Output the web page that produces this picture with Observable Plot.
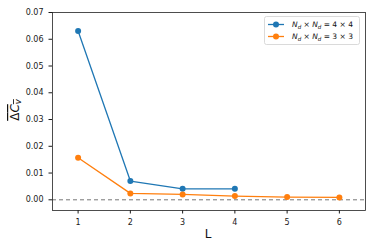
<!DOCTYPE html>
<html><head><meta charset="utf-8">
<script src="https://cdn.jsdelivr.net/npm/d3@7"></script>
<script src="https://cdn.jsdelivr.net/npm/@observablehq/plot@0.6"></script>
<style>body{margin:0;background:#fff}svg{font-family:"DejaVu Sans",sans-serif}</style>
</head><body><div id="c"></div>
<script>
const L4 = [1, 2, 3, 4];
const v4 = [0.0631, 0.0070, 0.0041, 0.0041];
const L3 = [1, 2, 3, 4, 5, 6];
const v3 = [0.0157, 0.0024, 0.0020, 0.0014, 0.0010, 0.0009];
const xTicks = [1, 2, 3, 4, 5, 6];
const yTicks = [0, 0.01, 0.02, 0.03, 0.04, 0.05, 0.06, 0.07];
const blue = "#1f77b4", orange = "#ff7f0e";
const d4 = L4.map((L, i) => ({L, v: v4[i]}));
const d3s = L3.map((L, i) => ({L, v: v3[i]}));

const chart = Plot.plot({
  width: 374, height: 249,
  marginLeft: 52, marginRight: 9, marginTop: 12, marginBottom: 39,
  style: {fontSize: "8px", fontFamily: "DejaVu Sans, sans-serif", color: "#1a1a1a"},
  x: {domain: [0.51, 6.5], ticks: xTicks, tickSize: 3.5, label: null, tickFormat: d => d},
  y: {domain: [-0.004, 0.07], ticks: yTicks, tickSize: 3.5, label: null, tickFormat: d3.format(".2f")},
  marks: [
    Plot.ruleY([0], {stroke: "#777", strokeWidth: 1, strokeDasharray: "4,3"}),
    Plot.line(d4, {x: "L", y: "v", stroke: blue, strokeWidth: 1.3}),
    Plot.dot(d4, {x: "L", y: "v", fill: blue, r: 3}),
    Plot.line(d3s, {x: "L", y: "v", stroke: orange, strokeWidth: 1.3}),
    Plot.dot(d3s, {x: "L", y: "v", fill: orange, r: 3}),
    Plot.frame({stroke: "#222", strokeWidth: 0.8})
  ]
});
document.getElementById("c").appendChild(chart);
const svg = d3.select(chart);
// x label
svg.append("text").attr("x", 208).attr("y", 238).attr("text-anchor", "middle")
  .attr("font-size", 12).attr("fill", "#111").text("L");
// y label
const yl = svg.append("text").attr("transform", "translate(19,110) rotate(-90)")
  .attr("text-anchor", "middle").attr("font-size", 12).attr("fill", "#111")
  .style("text-decoration", "overline");
yl.append("tspan").text("Δ");
yl.append("tspan").attr("font-style", "italic").text("C");
yl.append("tspan").attr("font-style", "italic").attr("font-size", 8.5).attr("dy", 2).text("v");
// legend
const lg = svg.append("g").attr("text-anchor", "start");
lg.append("rect").attr("x", 264.5).attr("y", 16.5).attr("width", 95).attr("height", 28)
  .attr("rx", 2).attr("fill", "#fff").attr("stroke", "#d0d0d0").attr("stroke-width", 0.8);
const entries = [{c: blue, n: "4"}, {c: orange, n: "3"}];
entries.forEach((e, i) => {
  const y = 24.5 + i * 12;
  lg.append("line").attr("x1", 268).attr("x2", 284).attr("y1", y).attr("y2", y)
    .attr("stroke", e.c).attr("stroke-width", 1.3);
  lg.append("circle").attr("cx", 276).attr("cy", y).attr("r", 3).attr("fill", e.c);
  const t = lg.append("text").attr("x", 292).attr("y", y + 2.8).attr("font-size", 7.5)
    .attr("fill", "#111").attr("text-anchor", "start");
  t.append("tspan").attr("font-style", "italic").text("N");
  t.append("tspan").attr("font-style", "italic").attr("font-size", 5.5).attr("dy", 1.5).text("d");
  t.append("tspan").attr("dy", -1.5).text(" × ");
  t.append("tspan").attr("font-style", "italic").text("N");
  t.append("tspan").attr("font-style", "italic").attr("font-size", 5.5).attr("dy", 1.5).text("d");
  t.append("tspan").attr("dy", -1.5).text(" = " + e.n + " × " + e.n);
});
</script></body></html>
